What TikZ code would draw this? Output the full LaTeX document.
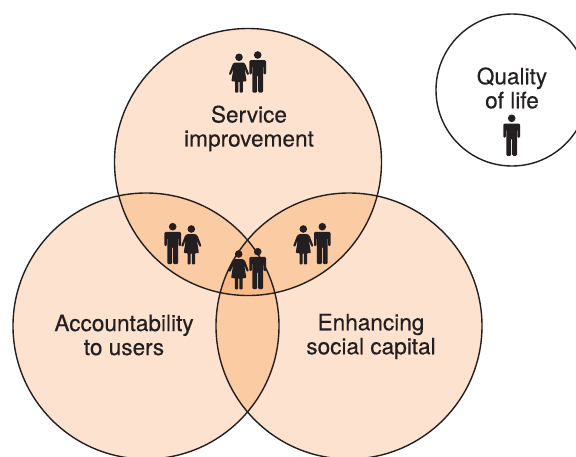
\documentclass[tikz,border=0pt]{standalone}
\usepackage{fontspec}
\newfontfamily\labelfont[FakeBold=0.3,AutoFakeBold=0.3]{TeX Gyre Heros}
\definecolor{ink}{HTML}{231F20}
\definecolor{basefill}{HTML}{FDE3CF}
\definecolor{pairfill}{HTML}{FBCBA3}
\definecolor{triplefill}{HTML}{F9BA88}
\tikzset{
  x=1pt,y=-1pt,
  ring/.style={draw=ink,line width=1.4pt},
  label text/.style={font=\labelfont\bfseries\fontsize{22.6}{24}\selectfont,text=ink,align=center,inner sep=0pt},
  man/.pic={
    \fill[ink] (0,0) circle (3.8);
    \fill[ink,rounded corners=1.2] (-8.3,19.5) -- (-8.3,5.2) -- (8.3,5.2) -- (8.3,19.5) -- (5.9,19.5) -- (5.9,11) -- (5.4,11) -- (5.4,37.5) -- (0.5,37.5) -- (0.5,20) -- (-0.5,20) -- (-0.5,37.5) -- (-5.4,37.5) -- (-5.4,11) -- (-5.9,11) -- (-5.9,19.5) -- cycle;
  },
  woman/.pic={
    \fill[ink] (0,0) circle (3.8);
    \fill[ink,rounded corners=0.8] (-4.6,5.2) -- (4.6,5.2) -- (6.4,7) -- (10.2,17) -- (8.2,17.8) -- (5.6,11) -- (7.6,24) -- (3.8,24) -- (3.8,35.3) -- (0.6,35.3) -- (0.6,24) -- (-0.6,24) -- (-0.6,35.3) -- (-3.8,35.3) -- (-3.8,24) -- (-7.6,24) -- (-5.6,11) -- (-8.2,17.8) -- (-10.2,17) -- (-6.4,7) -- cycle;
  },
}
\def\ctop{(248,162) circle (133.5)}
\def\cleft{(146,326) circle (133)}
\def\cright{(349,326) circle (133)}
\begin{document}
\begin{tikzpicture}
\useasboundingbox (0,0) rectangle (576,456);
\clip (0,0) rectangle (576,456);
\fill[white] (0,0) rectangle (576,456);
% base discs
\fill[basefill] \ctop;
\fill[basefill] \cleft;
\fill[basefill] \cright;
% pairwise overlaps
\begin{scope}\clip \ctop; \fill[pairfill] \cleft; \end{scope}
\begin{scope}\clip \ctop; \fill[pairfill] \cright; \end{scope}
\begin{scope}\clip \cleft; \fill[pairfill] \cright; \end{scope}
% triple overlap
\begin{scope}\clip \ctop; \clip \cleft; \fill[triplefill] \cright; \end{scope}
% outlines
\draw[ring] \ctop;
\draw[ring] \cleft;
\draw[ring] \cright;
\draw[ring] (512,90) circle (76);
% labels
\node[label text] (service) at (249,128.5) {Service\\improvement};
\node[label text] (account) at (124,335) {Accountability\\to users};
\node[label text] (social) at (371,336.5) {Enhancing\\social capital};
\node[label text] (quality) at (512,88) {Quality\\of life};
% people
\pic at (239,57.3) {woman};
\pic at (257.7,55) {man};
\pic at (172.7,226.7) {man};
\pic at (191.3,229) {woman};
\pic at (238.7,254) {woman};
\pic at (257.7,251.7) {man};
\pic at (303.3,229) {woman};
\pic at (322.3,226.7) {man};
\pic at (511.7,118.3) {man};
\end{tikzpicture}
\end{document}
